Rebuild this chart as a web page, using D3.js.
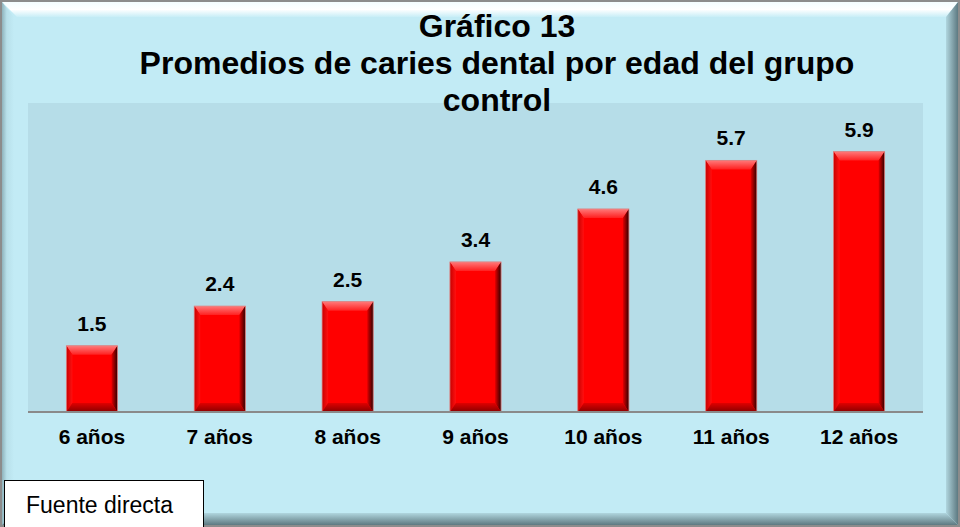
<!DOCTYPE html>
<html>
<head>
<meta charset="utf-8">
<script src="https://cdn.jsdelivr.net/npm/d3@7"></script>
<style>
	html, body { margin: 0; padding: 0; background: #fff; }
	svg { display: block; font-family: 'Liberation Sans', Arial, sans-serif; }
</style>
</head>
<body>
<div class="graphic"></div>
<script>
const categories = ['6 años', '7 años', '8 años', '9 años', '10 años', '11 años', '12 años']
const values = [1.5, 2.4, 2.5, 3.4, 4.6, 5.7, 5.9]
const titleLines = ['Gráfico 13', 'Promedios de caries dental por edad del grupo', 'control']
const source = 'Fuente directa'

const width = 960
const height = 527
const plot = { left: 28, right: 923, top: 103, bottom: 412 }

const svg = d3.select('.graphic').append('svg')
	.attr('width', width)
	.attr('height', height)

const defs = svg.append('defs')

function grad(id, x2, y2, stops) {
	const g = defs.append('linearGradient').attr('id', id)
		.attr('x1', 0).attr('y1', 0).attr('x2', x2).attr('y2', y2)
	stops.forEach(s => g.append('stop').attr('offset', s[0]).attr('stop-color', s[1]))
}

// frame bevels
grad('bevTop', 0, 1, [[0, '#f4fdff'], [0.5, '#ffffff'], [1, '#c8eef7']])
grad('bevLeft', 1, 0, [[0, '#8fb3bc'], [0.4, '#b8e0ea'], [1, '#c2ebf5']])
grad('bevRight', 1, 0, [[0, '#b0d6df'], [0.6, '#7f9ea6'], [1, '#5d7a82']])
grad('bevBottom', 0, 1, [[0, '#b0d6df'], [0.6, '#7f9ea6'], [1, '#5d7a82']])
// bar bevels
grad('barTop', 0, 1, [[0, '#ff7a7a'], [1, '#ff2020']])
grad('barRight', 1, 0, [[0, '#e00000'], [1, '#300000']])
grad('barBottom', 0, 1, [[0, '#e00000'], [1, '#8a0000']])
grad('barLeft', 1, 0, [[0, '#c80000'], [1, '#ff1010']])

svg.append('rect')
	.attr('width', width).attr('height', height)
	.attr('fill', '#c2ebf5')

const b = 14
svg.append('polygon')
	.attr('points', [[2, 2], [width - 2, 2], [width - b, b + 3], [b + 3, b + 3]].join(' '))
	.attr('fill', 'url(#bevTop)')
svg.append('polygon')
	.attr('points', [[2, 2], [b, b + 3], [b, height - b], [2, height - 2]].join(' '))
	.attr('fill', 'url(#bevLeft)')
svg.append('polygon')
	.attr('points', [[width - 2, 2], [width - 2, height - 2], [width - b, height - b], [width - b, b + 3]].join(' '))
	.attr('fill', 'url(#bevRight)')
svg.append('polygon')
	.attr('points', [[2, height - 2], [width - 2, height - 2], [width - b, height - b], [b, height - b]].join(' '))
	.attr('fill', 'url(#bevBottom)')
svg.append('rect')
	.attr('x', 1).attr('y', 1).attr('width', width - 2).attr('height', height - 2)
	.attr('fill', 'none').attr('stroke', '#8c8c8c').attr('stroke-width', 2)

// plot area
svg.append('rect')
	.attr('x', plot.left).attr('y', plot.top)
	.attr('width', plot.right - plot.left).attr('height', plot.bottom - plot.top)
	.attr('fill', '#b6dde8')

const x = d3.scaleBand()
	.domain(categories)
	.range([plot.left, plot.right])
	.padding(0)

const y = d3.scaleLinear()
	.domain([0, 7])
	.range([plot.bottom, plot.top])

const data = categories.map((c, i) => ({ cat: c, value: values[i] }))
const barW = x.bandwidth() * 0.4

const bars = svg.append('g').selectAll('g')
	.data(data)
	.enter().append('g')
	.attr('transform', d => `translate(${x(d.cat) + (x.bandwidth() - barW) / 2},${y(d.value)})`)

bars.each(function(d) {
	const g = d3.select(this)
	const w = barW
	const h = y(0) - y(d.value)
	const s = 6
	const t = 9
	g.append('rect').attr('width', w).attr('height', h).attr('fill', '#ff0000')
	g.append('polygon').attr('points', [[0, 0], [w, 0], [w - s, t], [s, t]].join(' ')).attr('fill', 'url(#barTop)')
	g.append('polygon').attr('points', [[0, 0], [s, t], [s, h - t], [0, h]].join(' ')).attr('fill', 'url(#barLeft)')
	g.append('polygon').attr('points', [[w, 0], [w, h], [w - s, h - t], [w - s, t]].join(' ')).attr('fill', 'url(#barRight)')
	g.append('polygon').attr('points', [[0, h], [w, h], [w - s, h - t], [s, h - t]].join(' ')).attr('fill', 'url(#barBottom)')
	g.append('rect').attr('width', w).attr('height', h)
		.attr('fill', 'none').attr('stroke', '#d88a8a').attr('stroke-width', 0.8)
})

// value labels
svg.append('g').selectAll('text')
	.data(data)
	.enter().append('text')
	.attr('x', d => x(d.cat) + x.bandwidth() / 2)
	.attr('y', d => y(d.value) - 15)
	.attr('text-anchor', 'middle')
	.attr('font-size', 21)
	.attr('font-weight', 'bold')
	.text(d => d.value.toFixed(1))

// axis
const xAxis = svg.append('g')
	.attr('transform', `translate(0,${plot.bottom})`)
	.call(d3.axisBottom(x).tickSize(0).tickPadding(17))
xAxis.select('.domain').attr('stroke', '#8a8a8a').attr('stroke-width', 2)
	.attr('d', `M${plot.left},0H${plot.right}`)
xAxis.selectAll('text')
	.attr('font-size', 21)
	.attr('font-weight', 'bold')
	.attr('font-family', "'Liberation Sans', Arial, sans-serif")
	.attr('fill', '#000')

// title
svg.append('text')
	.attr('text-anchor', 'middle')
	.attr('font-size', 32)
	.attr('font-weight', 'bold')
	.selectAll('tspan')
	.data(titleLines)
	.enter().append('tspan')
	.attr('x', 497)
	.attr('y', (d, i) => 37 + i * 37)
	.text(d => d)

// source box
svg.append('rect')
	.attr('x', 4.5).attr('y', 480.5).attr('width', 199).attr('height', 60)
	.attr('fill', '#fff').attr('stroke', '#000').attr('stroke-width', 1)
svg.append('text')
	.attr('x', 26).attr('y', 513)
	.attr('font-size', 23)
	.text(source)
</script>
</body>
</html>
